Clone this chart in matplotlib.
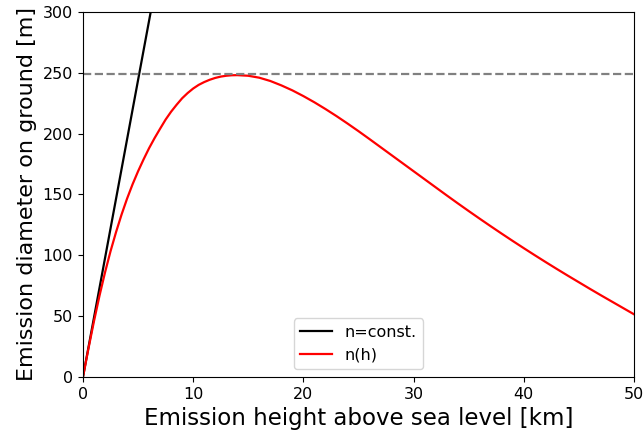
import numpy as np
import matplotlib
matplotlib.use("Agg")
import matplotlib.pyplot as plt

# values
const_h = [0.0, 6.15]
const_d = [0.0, 300.0]

nh_h = [0, 0.5, 1, 1.5, 2, 2.5, 3, 3.5, 4, 4.5, 5, 5.5, 6, 6.5, 7, 7.5,
        8, 8.5, 9, 9.5, 10, 10.5, 11, 11.5, 12, 12.5, 13, 13.5, 14,
        15, 16, 17, 18, 19, 20, 21, 22, 23, 24, 25, 26, 27, 28, 29, 30,
        31, 32, 33, 34, 35, 36, 37, 38, 39, 40, 41, 42, 43, 44, 45, 46,
        47, 48, 49, 50]
nh_d = [0, 23.5, 45.9, 66.8, 85.9, 103.3, 119, 133.4, 146.5, 158.3, 169, 178.8,
        188, 196.3, 204, 211.5, 218, 223.7, 229, 233.3, 237, 240, 242.3, 244.2,
        245.7, 246.8, 247.5, 247.9, 248,
        247.5, 245.9, 243.2, 239.6, 235.5, 230.8, 225.7, 220.2, 214.4, 208.3,
        202, 195.5, 188.9, 182.3, 175.7, 169.1, 162.5, 155.9, 149.3, 142.8,
        136.4, 130.1, 123.9, 117.8, 111.8, 105.9, 100.1, 94.4, 88.8, 83.3,
        77.9, 72.5, 67.2, 62, 56.8, 51.6]

max_d = 249

fig = plt.figure(figsize=(6.43, 4.38), dpi=100)
ax = fig.add_axes([0.129, 0.139, 0.857, 0.834])

ax.plot(const_h, const_d, color='black', linewidth=1.6, label='n=const.')
ax.plot(nh_h, nh_d, color='red', linewidth=1.6, label='n(h)')
ax.axhline(max_d, color='gray', linestyle='--', linewidth=1.6)

ax.set_xlim(0, 50)
ax.set_ylim(0, 300)
ax.set_xlabel("Emission height above sea level [km]", fontsize=16.5)
ax.set_ylabel("Emission diameter on ground [m]", fontsize=16)
ax.tick_params(labelsize=11.5)
ax.legend(loc='lower center', fontsize=11.5)

fig.savefig("out.png", dpi=100)
